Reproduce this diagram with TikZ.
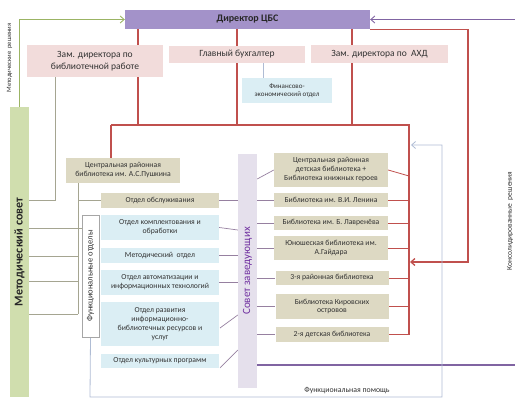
\documentclass[tikz,border=0pt]{standalone}
\usepackage{fontspec}
\setmainfont{Carlito}
\usetikzlibrary{arrows.meta,backgrounds}
\definecolor{dirfill}{RGB}{163,146,201}
\definecolor{pinkfill}{RGB}{242,220,219}
\definecolor{tanfill}{RGB}{221,217,195}
\definecolor{bluefill}{RGB}{219,238,244}
\definecolor{lilacfill}{RGB}{229,224,236}
\definecolor{greenfill}{RGB}{208,222,174}
\definecolor{redline}{RGB}{192,80,77}
\definecolor{greenline}{RGB}{155,180,100}
\definecolor{purpline}{RGB}{128,100,162}
\definecolor{greyline}{RGB}{165,165,145}
\definecolor{violgrey}{RGB}{150,128,160}
\definecolor{loopline}{RGB}{175,188,212}
\definecolor{txt}{RGB}{50,50,50}
\definecolor{soviettxt}{RGB}{112,48,160}
\tikzset{
  box/.style={draw=none, inner sep=1pt, align=center, text=txt},
  pinkbox/.style={box, fill=pinkfill, font=\fontsize{9.5}{11.5}\selectfont},
  tanbox/.style={box, fill=tanfill, font=\fontsize{7.7}{9}\selectfont},
  bluebox/.style={box, fill=bluefill, font=\fontsize{7.7}{9}\selectfont},
  lbl/.style={inner sep=0pt, text=txt},
  redc/.style={draw=redline, line width=1.1pt},
  greyc/.style={draw=greyline, line width=0.7pt},
  violc/.style={draw=violgrey, line width=0.7pt},
  arr/.style={-{Straight Barb[length=4pt,width=7pt]}}
}
\begin{document}
\begin{tikzpicture}[x=1pt,y=-1pt]
\useasboundingbox (0,0) rectangle (515,401);
% boxes
\node[box, fill=dirfill, minimum width=245pt, minimum height=19pt, font=\bfseries\fontsize{10}{12}\selectfont, text=black!85] (dir) at (247.5,19.5) {Директор ЦБС};
\node[pinkbox, minimum width=136pt, minimum height=32pt] (zam1) at (95,61) {Зам. директора по\\библиотечной работе};
\node[pinkbox, minimum width=136pt, minimum height=17pt] (buh) at (237,54.5) {Главный бухгалтер};
\node[pinkbox, minimum width=137pt, minimum height=18pt] (ahd) at (379.5,54) {Зам. директора по\ \ АХД};
\node[box, fill=bluefill, minimum width=90pt, minimum height=25pt, font=\fontsize{7}{8.3}\selectfont] (fin) at (287,90.5) {Финансово-\\экономический отдел};
\node[box, fill=greenfill, minimum width=19pt, minimum height=290pt] (metsov) at (19.5,252) {};
\node[lbl, rotate=90, font=\bfseries\fontsize{12}{14}\selectfont, text=black!85] (metsovt) at (metsov.center) {Методический совет};
\node[tanbox, minimum width=114pt, minimum height=25pt] (push) at (123,170.5) {Центральная районная\\библиотека им. А.С.Пушкина};
\node[tanbox, minimum width=118pt, minimum height=15pt] (obs) at (160,200.5) {Отдел обслуживания};
\node[bluebox, minimum width=118pt, minimum height=25pt] (kompl) at (160,227.5) {Отдел комплектования и\\обработки};
\node[bluebox, minimum width=118pt, minimum height=15pt] (metod) at (160,255.5) {Методический\ \ отдел};
\node[bluebox, minimum width=118pt, minimum height=25pt] (avt) at (160,282.5) {Отдел автоматизации и\\информационных технологий};
\node[bluebox, minimum width=118pt, minimum height=44pt] (razv) at (160,324) {Отдел развития\\информационно-\\библиотечных ресурсов и\\услуг};
\node[bluebox, minimum width=118pt, minimum height=14pt] (kult) at (160,361) {Отдел культурных программ};
\node[box, fill=white, draw=black!35, line width=0.5pt, minimum width=17pt, minimum height=122pt] (funk) at (90.5,276) {};
\node[lbl, rotate=90, font=\fontsize{8.5}{10}\selectfont] (funkt) at (funk.center) {Функциональные отделы};
\node[box, fill=lilacfill, minimum width=19pt, minimum height=234pt] (sovet) at (247.5,271) {};
\node[lbl, rotate=90, font=\fontsize{11}{13}\selectfont, text=soviettxt] (sovett) at (sovet.center) {Совет заведующих};
\node[tanbox, minimum width=114pt, minimum height=34pt] (crd) at (331,170) {Центральная районная\\детская библиотека +\\Библиотека книжных героев};
\node[tanbox, minimum width=114pt, minimum height=14pt] (len) at (331,200) {Библиотека им. В.И. Ленина};
\node[tanbox, minimum width=114pt, minimum height=14pt] (lav) at (331,223) {Библиотека им. Б. Лавренёва};
\node[tanbox, minimum width=114pt, minimum height=24pt] (yun) at (331,248) {Юношеская библиотека им.\\А.Гайдара};
\node[tanbox, minimum width=113pt, minimum height=14pt] (r3) at (332,278) {3-я районная библиотека};
\node[tanbox, minimum width=113pt, minimum height=25pt] (kir) at (332,306.5) {Библиотека Кировских\\островов};
\node[tanbox, minimum width=113pt, minimum height=15pt] (d2) at (332,334.5) {2-я детская библиотека};
% labels
\node[lbl, rotate=90, font=\fontsize{6.6}{7.5}\selectfont] (l1) at (9.5,58) {Методические\ \ решения};
\node[lbl, rotate=90, font=\fontsize{7.5}{8.5}\selectfont] (l2) at (510,221) {Консолидированные\ \ решения};
\node[lbl, font=\fontsize{7.8}{9}\selectfont] (l3) at (347,391) {Функциональная помощь};
% coordinates
\coordinate (rtop) at (515,19.5);
\coordinate (rbot) at (515,365);
\coordinate (b1) at (111,125);
\coordinate (b2) at (409,125);
\coordinate (c138) at (138,125);
\coordinate (c352) at (352,125);
\coordinate (rend) at (409,335);
\coordinate (rc) at (468,262);
\coordinate (ra) at (410,262);
\coordinate (g1) at (55,200);
\coordinate (pv) at (78,314);
\coordinate (fx) at (263,0);
\coordinate (lp1) at (90,397);
\coordinate (lp2) at (442,397);
\coordinate (lp3) at (442,145);
\coordinate (lp4) at (411,145);
\begin{scope}[on background layer]
% green arrow
\draw[draw=greenline, line width=0.9pt, arr] (metsov.north) |- (dir.west);
% purple
\draw[draw=purpline, line width=0.9pt, arr] (rtop) -- (dir.east);
\draw[draw=purpline, line width=1.1pt] (sovet.east |- rbot) -- (rbot);
% red
\draw[redc] (b1) -- (b2) -- (rend);
\draw[redc] (c138 |- dir.south) -- (c138);
\draw[redc] (buh.center |- dir.south) -- (buh.center |- b1);
\draw[redc] (c352 |- dir.south) -- (c352);
\draw[redc] (b1) -- (b1 |- push.north);
\draw[draw=redline, line width=1.3pt, arr] (dir.south east) -| (rc) -- (ra);
\draw[redc, line width=0.8pt] (crd.east) -- (409,176);
\foreach \n in {len,lav,yun,r3,kir,d2} \draw[redc, line width=0.8pt] (\n.east) -- (\n.east -| b2);
% fin link
\draw[draw=loopline, line width=0.7pt] (fx |- buh.south) -- (fx |- fin.north);
% grey lines
\draw[greyc] (g1 |- zam1.south) -- (g1) -- (g1 -| metsov.east);
\draw[greyc] (pv |- push.south) -- (pv);
\draw[greyc] (pv |- obs.west) -- (obs.west);
\draw[greyc] (metsov.east |- 0,228) -- (funk.west |- 0,228);
\draw[greyc] (metsov.east |- 0,256) -- (pv |- 0,256);
\draw[greyc] (metsov.east |- 0,281) -- (pv |- 0,281);
\draw[greyc] (metsov.east |- pv) -- (pv);
% viol links left
\draw[violc] (obs.east) -- (obs.east -| sovet.west);
\draw[violc] (kompl.east) -- (sovet.west |- 0,230);
\draw[violc] (metod.east) -- (metod.east -| sovet.west);
\draw[violc] (avt.east) -- (avt.east -| sovet.west);
\draw[violc] (220,328) -- (sovet.west |- 0,315);
\draw[violc] (220,368) -- (sovet.west |- 0,350);
% viol links right
\draw[violc] (sovet.east |- 0,179) -- (crd.west);
\foreach \n in {len,lav,yun,r3,kir,d2} \draw[violc] (sovet.east |- \n.west) -- (\n.west);
% loop
\draw[draw=loopline, line width=0.8pt, arr] (funk.south) -- (lp1) -- (lp2) -- (lp3) -- (lp4);
\end{scope}
\end{tikzpicture}
\end{document}
